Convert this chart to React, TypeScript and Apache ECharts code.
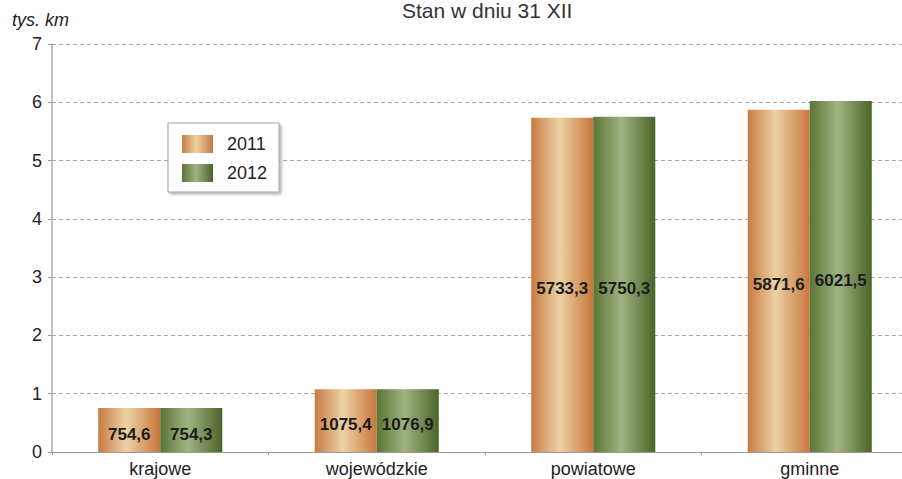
import React, { useEffect, useRef } from "react";
import * as echarts from "echarts";

const categories = ["krajowe", "wojewódzkie", "powiatowe", "gminne"];
const values2011 = [754.6, 1075.4, 5733.3, 5871.6];
const values2012 = [754.3, 1076.9, 5750.3, 6021.5];
const seriesNames = ["2011", "2012"];
const yTicks = [0, 1, 2, 3, 4, 5, 6, 7];

const FONT = "'Liberation Sans', Arial, sans-serif";

const fmt = (v: number) => v.toFixed(1).replace(".", ",");

const grad = (edgeL: string, mid: string, edgeR: string) =>
  new echarts.graphic.LinearGradient(0, 0, 1, 0, [
    { offset: 0, color: edgeL },
    { offset: 0.45, color: mid },
    { offset: 1, color: edgeR },
  ]);

export default function App() {
  const ref = useRef<HTMLDivElement>(null);
  useEffect(() => {
    if (!ref.current) return;
    const chart = echarts.init(ref.current, undefined, { renderer: "svg" });
    const mkSeries = (name: string, vals: number[], color: any) => ({
      name,
      type: "bar",
      data: vals.map((v) => v / 1000),
      barGap: "0%",
      barCategoryGap: "42.7%",
      itemStyle: { color },
      label: {
        show: true,
        position: "inside",
        offset: [0, 4],
        formatter: (p: any) => fmt(p.value * 1000),
        fontFamily: FONT,
        fontSize: 17,
        fontWeight: "bold",
        color: "#1c1c1c",
      },
    });
    chart.setOption({
      animation: false,
      backgroundColor: "#ffffff",
      title: {
        text: "Stan w dniu 31 XII",
        left: 402,
        top: 0,
        padding: 0,
        textStyle: { fontFamily: FONT, fontSize: 21, fontWeight: "normal", color: "#333" },
      },
      graphic: [
        {
          type: "text",
          left: 12,
          top: 11,
          style: {
            text: "tys. km",
            fontFamily: FONT,
            fontSize: 18,
            fontStyle: "italic",
            fill: "#222",
          },
        },
      ],
      legend: {
        left: 168,
        top: 123,
        orient: "vertical",
        data: seriesNames,
        padding: [12, 12, 10, 14],
        itemWidth: 31,
        itemHeight: 18,
        itemGap: 11,
        icon: "rect",
        backgroundColor: "#fff",
        borderColor: "#a0a0a0",
        borderWidth: 1,
        shadowColor: "rgba(0,0,0,0.3)",
        shadowBlur: 3,
        shadowOffsetX: 2,
        shadowOffsetY: 2,
        textStyle: {
          fontFamily: FONT,
          fontSize: 18,
          color: "#222",
          lineHeight: 18,
          padding: [0, 0, 0, 9],
        },
      },
      grid: { left: 52, top: 44, width: 866, height: 408, containLabel: false },
      xAxis: {
        type: "category",
        data: categories,
        axisLine: { lineStyle: { color: "#999", width: 1 } },
        axisTick: { show: true, length: 3, lineStyle: { color: "#999" } },
        axisLabel: { fontFamily: FONT, fontSize: 18, color: "#222", margin: 8 },
      },
      yAxis: {
        type: "value",
        min: yTicks[0],
        max: yTicks[yTicks.length - 1],
        interval: 1,
        axisLine: { show: true, lineStyle: { color: "#aaa", width: 1.5 } },
        axisTick: { show: true, length: 4, lineStyle: { color: "#999" } },
        axisLabel: { fontFamily: FONT, fontSize: 18, color: "#222", margin: 10 },
        splitLine: { show: true, lineStyle: { color: "#aaa", type: [4, 3], width: 1 } },
      },
      series: [
        mkSeries(seriesNames[0], values2011, grad("#c97a42", "#ebd2a4", "#c9763c")),
        mkSeries(seriesNames[1], values2012, grad("#5a7636", "#a0b282", "#4b6428")),
      ],
    });
    return () => chart.dispose();
  }, []);
  return (
    <div style={{ width: 902, height: 479, position: "absolute", left: 0, top: 0, overflow: "hidden" }}>
      <div ref={ref} style={{ width: 930, height: 479 }} />
    </div>
  );
}
